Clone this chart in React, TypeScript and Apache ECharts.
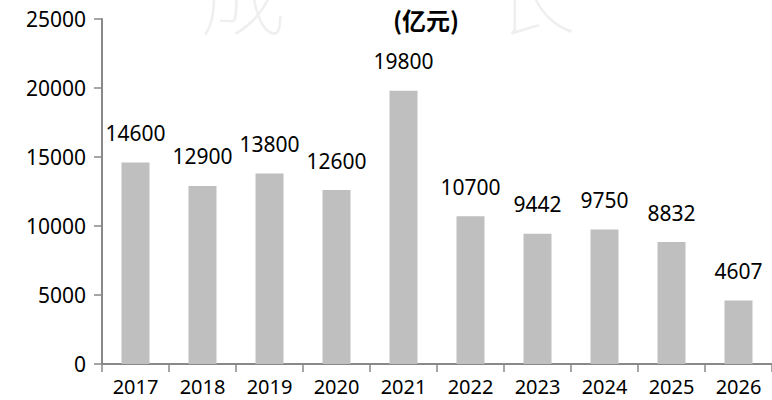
import React, { useEffect, useRef } from "react";
import * as echarts from "echarts";

const categories = ["2017", "2018", "2019", "2020", "2021", "2022", "2023", "2024", "2025", "2026"];
const values = [14600, 12900, 13800, 12600, 19800, 10700, 9442, 9750, 8832, 4607];
const yTicks = { min: 0, max: 25000, interval: 5000 };
const titleText = "(亿元)";
const watermark = ["成", "长"];

export default function App() {
  const ref = useRef<HTMLDivElement>(null);
  useEffect(() => {
    document.body.style.margin = "0";
    document.body.style.overflow = "hidden";
    const chart = echarts.init(ref.current!, null, { renderer: "svg" });
    const font = "'Noto Sans', 'Noto Sans CJK SC', sans-serif";
    chart.setOption({
      animation: false,
      backgroundColor: "#ffffff",
      textStyle: { fontFamily: font },
      title: {
        text: titleText,
        left: 421,
        top: 2,
        textAlign: "center",
        textStyle: {
          fontFamily: "'Noto Sans CJK SC', 'Noto Sans', sans-serif",
          fontWeight: "bold",
          fontSize: 24,
          color: "#000",
        },
      },
      graphic: [
        {
          type: "text",
          left: 200,
          top: -52,
          z: -10,
          silent: true,
          style: {
            text: watermark[0],
            fontSize: 86,
            fontWeight: 100,
            fontFamily: "'Noto Sans CJK SC', sans-serif",
            fill: "#efefef",
          },
        },
        {
          type: "text",
          left: 490,
          top: -52,
          z: -10,
          silent: true,
          style: {
            text: watermark[1],
            fontSize: 86,
            fontWeight: 100,
            fontFamily: "'Noto Sans CJK SC', sans-serif",
            fill: "#efefef",
          },
        },
      ],
      grid: { left: 102, right: -10, top: 19, bottom: 36 },
      xAxis: {
        type: "category",
        data: categories,
        axisLine: { lineStyle: { color: "#898989", width: 2 } },
        axisTick: { show: true, alignWithLabel: false, length: 8, lineStyle: { color: "#898989", width: 1.5 } },
        axisLabel: { color: "#000", fontSize: 20, lineHeight: 20, margin: 12, fontFamily: font, interval: 0 },
      },
      yAxis: {
        type: "value",
        min: yTicks.min,
        max: yTicks.max,
        interval: yTicks.interval,
        splitLine: { show: false },
        axisLine: { show: true, lineStyle: { color: "#898989", width: 2 } },
        axisTick: { show: true, length: 8, lineStyle: { color: "#898989", width: 1.5 } },
        axisLabel: {
          color: "#000",
          fontSize: 21,
          margin: 16,
          fontFamily: font,
          formatter: (v: number) => String(v),
        },
      },
      series: [
        {
          type: "bar",
          data: values,
          barWidth: 28,
          itemStyle: { color: "#bfbfbf" },
          label: {
            show: true,
            position: "top",
            distance: 19,
            color: "#000",
            fontSize: 21,
            fontFamily: font,
          },
        },
      ],
    });
    return () => chart.dispose();
  }, []);
  return <div ref={ref} style={{ width: 772, height: 400 }} />;
}
